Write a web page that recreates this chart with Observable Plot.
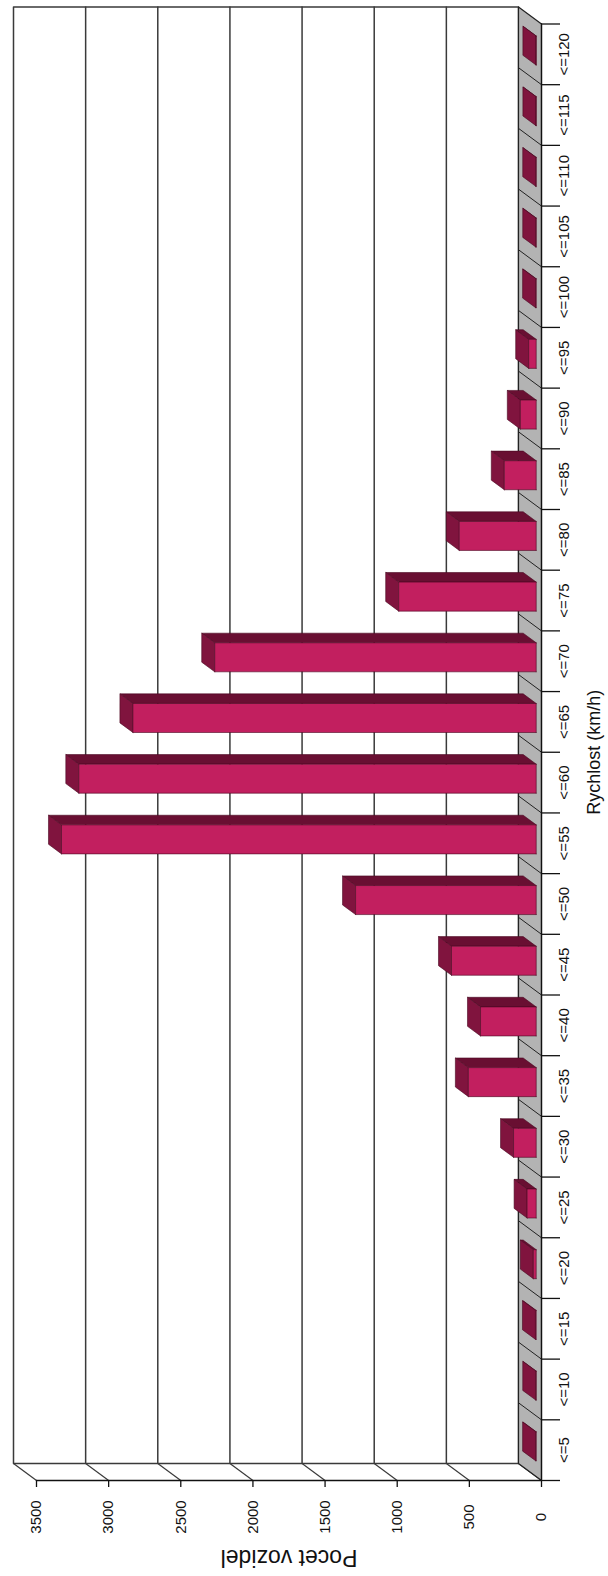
<!DOCTYPE html>
<html>
<head>
<meta charset="utf-8">
<script src="https://cdn.jsdelivr.net/npm/d3@7"></script>
<script src="https://cdn.jsdelivr.net/npm/@observablehq/plot@0.6"></script>
<style>
html, body { margin: 0; padding: 0; background: #ffffff; }
#chart svg { display: block; }
</style>
</head>
<body>
<div id="chart"></div>
<script>
// ---------------- data ----------------
const categories = ["<=5","<=10","<=15","<=20","<=25","<=30","<=35","<=40","<=45","<=50",
  "<=55","<=60","<=65","<=70","<=75","<=80","<=85","<=90","<=95","<=100","<=105","<=110","<=115","<=120"];
const counts = [4, 3, 5, 20, 63, 157, 470, 386, 587, 1252,
  3290, 3170, 2795, 2228, 953, 533, 221, 110, 52, 4, 3, 3, 2, 2];
const valueTicks = [0, 500, 1000, 1500, 2000, 2500, 3000, 3500];
const xTitle = "Rychlost (km/h)";
const yTitle = "Pocet vozidel";

// ---------------- layout (chart is drawn turned: values grow leftwards, categories upwards) ----------------
const W = 608, H = 1576;
const N = categories.length;
const X_DOMAIN = [0, 3500], X_RANGE = [541, 36];
const Y_DOMAIN = [0, N], Y_RANGE = [1480, 23.5];
const DEPTH = [-23, -17];            // px shift from front plane to back wall
const ux = (X_DOMAIN[1] - X_DOMAIN[0]) / (X_RANGE[0] - X_RANGE[1]);   // value units per px
const uy = (Y_DOMAIN[1] - Y_DOMAIN[0]) / (Y_RANGE[0] - Y_RANGE[1]);   // index units per px
const P = (v, k, d) => ({x: v - DEPTH[0] * d * ux, y: k - DEPTH[1] * d * uy});
const poly = (id, pts) => [...pts, pts[0]].map(p => ({id, x: p.x, y: p.y}));

const BAR_DF = 0.23, BAR_DB = 0.796, BAR_PAD = 0.261;
const C_FRONT = "#c21f5f", C_TOP = "#690f32", C_CAP = "#80143e", C_EDGE = "#4a0822";
const C_FLOOR = "#b3b3b3", C_GRID = "#3a3a3a";

const wall = poly("wall", [P(0,0,1), P(3500,0,1), P(3500,N,1), P(0,N,1)]);
const floor = poly("floor", [P(0,0,0), P(0,N,0), P(0,N,1), P(0,0,1)]);

const fronts = [], tops = [], caps = [];
counts.forEach((v, i) => {
  const k0 = i + BAR_PAD, k1 = i + 1 - BAR_PAD;
  fronts.push(...poly("f" + i, [P(0,k0,BAR_DF), P(v,k0,BAR_DF), P(v,k1,BAR_DF), P(0,k1,BAR_DF)]));
  tops.push(...poly("t" + i, [P(0,k1,BAR_DF), P(v,k1,BAR_DF), P(v,k1,BAR_DB), P(0,k1,BAR_DB)]));
  caps.push(...poly("c" + i, [P(v,k0,BAR_DF), P(v,k1,BAR_DF), P(v,k1,BAR_DB), P(v,k0,BAR_DB)]));
});

const boundaries = d3.range(N + 1);
const font = "'Liberation Sans', Arial, Helvetica, sans-serif";

const chart = Plot.plot({
  width: W,
  height: H,
  margin: 0,
  style: {background: "#ffffff", fontFamily: font},
  x: {domain: X_DOMAIN, range: X_RANGE, axis: null},
  y: {domain: Y_DOMAIN, range: Y_RANGE, axis: null},
  marks: [
    // back wall
    Plot.line(wall, {x: "x", y: "y", z: "id", fill: "#ffffff", stroke: C_GRID, strokeWidth: 1.5, curve: "linear"}),
    Plot.ruleX(valueTicks.filter(v => v > 0 && v < 3500), {
      x: v => P(v, 0, 1).x, y1: P(0, 0, 1).y, y2: P(0, N, 1).y, stroke: C_GRID, strokeWidth: 1.5
    }),
    // side wall diagonals
    Plot.link(valueTicks, {
      x1: v => P(v, 0, 1).x, y1: P(0, 0, 1).y, x2: v => v, y2: 0, stroke: C_GRID, strokeWidth: 1.2
    }),
    // floor
    Plot.line(floor, {x: "x", y: "y", z: "id", fill: C_FLOOR, stroke: "#222", strokeWidth: 1.2, curve: "linear"}),
    Plot.link(boundaries.slice(1, N), {
      x1: P(0, 0, 1).x, y1: k => P(0, k, 1).y, x2: 0, y2: k => k, stroke: "#222", strokeWidth: 1
    }),
    // bars
    Plot.line(tops, {x: "x", y: "y", z: "id", fill: C_TOP, stroke: C_EDGE, strokeWidth: 0.6, curve: "linear"}),
    Plot.line(caps, {x: "x", y: "y", z: "id", fill: C_CAP, stroke: C_EDGE, strokeWidth: 0.6, curve: "linear"}),
    Plot.line(fronts, {x: "x", y: "y", z: "id", fill: C_FRONT, stroke: C_EDGE, strokeWidth: 0.6, curve: "linear"}),
    // value axis (front)
    Plot.ruleY([0], {x1: 3500, x2: 0, stroke: "#111", strokeWidth: 1.3}),
    Plot.ruleX(valueTicks, {x: v => v, y1: 0, y2: -7 * uy, stroke: "#111", strokeWidth: 1.3}),
    // category axis (front)
    Plot.ruleX([0], {y1: 0, y2: N, stroke: "#111", strokeWidth: 1.3}),
    Plot.ruleY(boundaries, {y: k => k, x1: 0, x2: -19 * ux, stroke: "#111", strokeWidth: 1.3}),
    // labels
    Plot.text(categories, {
      x: 0, y: (d, i) => i + 0.5, text: d => d, rotate: -90, dx: 22.5,
      fontSize: 15, fill: "#111", fontFamily: font
    }),
    Plot.text(valueTicks, {
      x: v => v, y: 0, text: v => String(v), rotate: -90, dy: 36.5,
      fontSize: 15, fill: "#111", fontFamily: font
    }),
    Plot.text([xTitle], {
      x: 0, y: N / 2, text: d => d, rotate: -90, dx: 52.8,
      fontSize: 18, fill: "#111", fontFamily: font, ariaLabel: "x-title"
    }),
    Plot.text([yTitle], {
      x: 1750, y: 0, text: d => d, rotate: 180, dy: 76.4,
      fontSize: 23, fill: "#111", fontFamily: font, ariaLabel: "y-title"
    })
  ]
});

chart.querySelectorAll('g[aria-label="x-title"] text').forEach(t => {
  t.setAttribute("textLength", 158);
  t.setAttribute("lengthAdjust", "spacingAndGlyphs");
});
chart.querySelectorAll('g[aria-label="y-title"] text').forEach(t => {
  t.setAttribute("textLength", 152);
  t.setAttribute("lengthAdjust", "spacingAndGlyphs");
});

document.getElementById("chart").appendChild(chart);
</script>
</body>
</html>
